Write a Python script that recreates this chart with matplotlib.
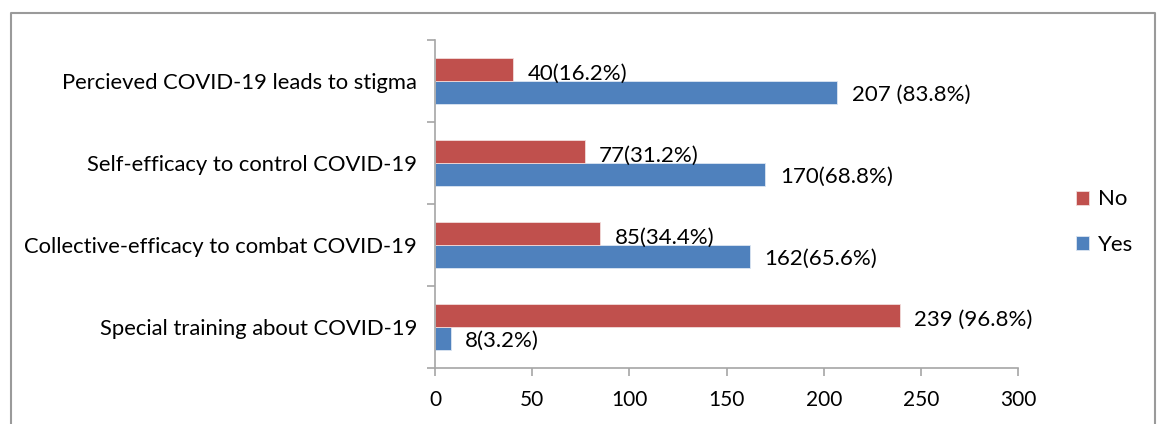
import numpy as np
import matplotlib.pyplot as plt
from matplotlib.lines import Line2D

plt.rcParams['font.family'] = ['Lato', 'DejaVu Sans']

categories = ['Special training about COVID-19',
              'Collective-efficacy to combat COVID-19',
              'Self-efficacy to control COVID-19',
              'Percieved COVID-19 leads to stigma']
yes_vals = [8, 162, 170, 207]
no_vals = [239, 85, 77, 40]
yes_labels = ['8(3.2%)', '162(65.6%)', '170(68.8%)', '207 (83.8%)']
no_labels = ['239 (96.8%)', '85(34.4%)', '77(31.2%)', '40(16.2%)']

red = '#C0504D'
blue = '#4F81BD'
grey = '#A6A6A6'

fig = plt.figure(figsize=(11.59, 4.24), dpi=100)
ax = fig.add_axes([0.3753, 0.132, 0.5031, 0.7737])

y = np.arange(len(categories))
h = 0.285
ax.barh(y - h / 2, yes_vals, height=h, color=blue, edgecolor='#DCE6F2', linewidth=0.6, label='Yes')
ax.barh(y + h / 2, no_vals, height=h, color=red, edgecolor='#F2DCDB', linewidth=0.6, label='No')

for i in range(len(categories)):
    ax.text(yes_vals[i] + 7.5, y[i] - h / 2 - 0.03, yes_labels[i], va='center', ha='left', fontsize=16)
    ax.text(no_vals[i] + 7.5, y[i] + h / 2 - 0.05, no_labels[i], va='center', ha='left', fontsize=16)

ax.set_xlim(0, 300)
ax.set_ylim(-0.5, len(categories) - 0.5)
ax.set_xticks(np.arange(0, 301, 50))
ax.tick_params(axis='x', labelsize=15, length=6, color=grey, width=1.2, pad=10)

# category ticks at band edges, labels at centres
ax.set_yticks(np.arange(-0.5, len(categories), 1.0))
ax.set_yticklabels([])
ax.set_yticks(y, minor=True)
ax.set_yticklabels(categories, minor=True, fontsize=15.8)
ax.tick_params(axis='y', which='major', length=6, color=grey, width=1.2)
ax.tick_params(axis='y', which='minor', length=0, pad=13)

for s in ['top', 'right']:
    ax.spines[s].set_visible(False)
for s in ['left', 'bottom']:
    ax.spines[s].set_color(grey)
    ax.spines[s].set_linewidth(1.2)

handles, labels = ax.get_legend_handles_labels()
leg = fig.legend(handles[::-1], labels[::-1], loc='center left', bbox_to_anchor=(0.911, 0.476),
                 frameon=False, fontsize=16, handlelength=0.6, handleheight=0.6,
                 handletextpad=0.4, labelspacing=1.15)

# outer chart border
fig.add_artist(Line2D([11 / 1159, 11 / 1159, 1155 / 1159, 1155 / 1159],
                      [0, 1 - 13 / 424, 1 - 13 / 424, 0],
                      transform=fig.transFigure, color='#9A9A9A', linewidth=1.5))

fig.savefig('out.png', dpi=100)
